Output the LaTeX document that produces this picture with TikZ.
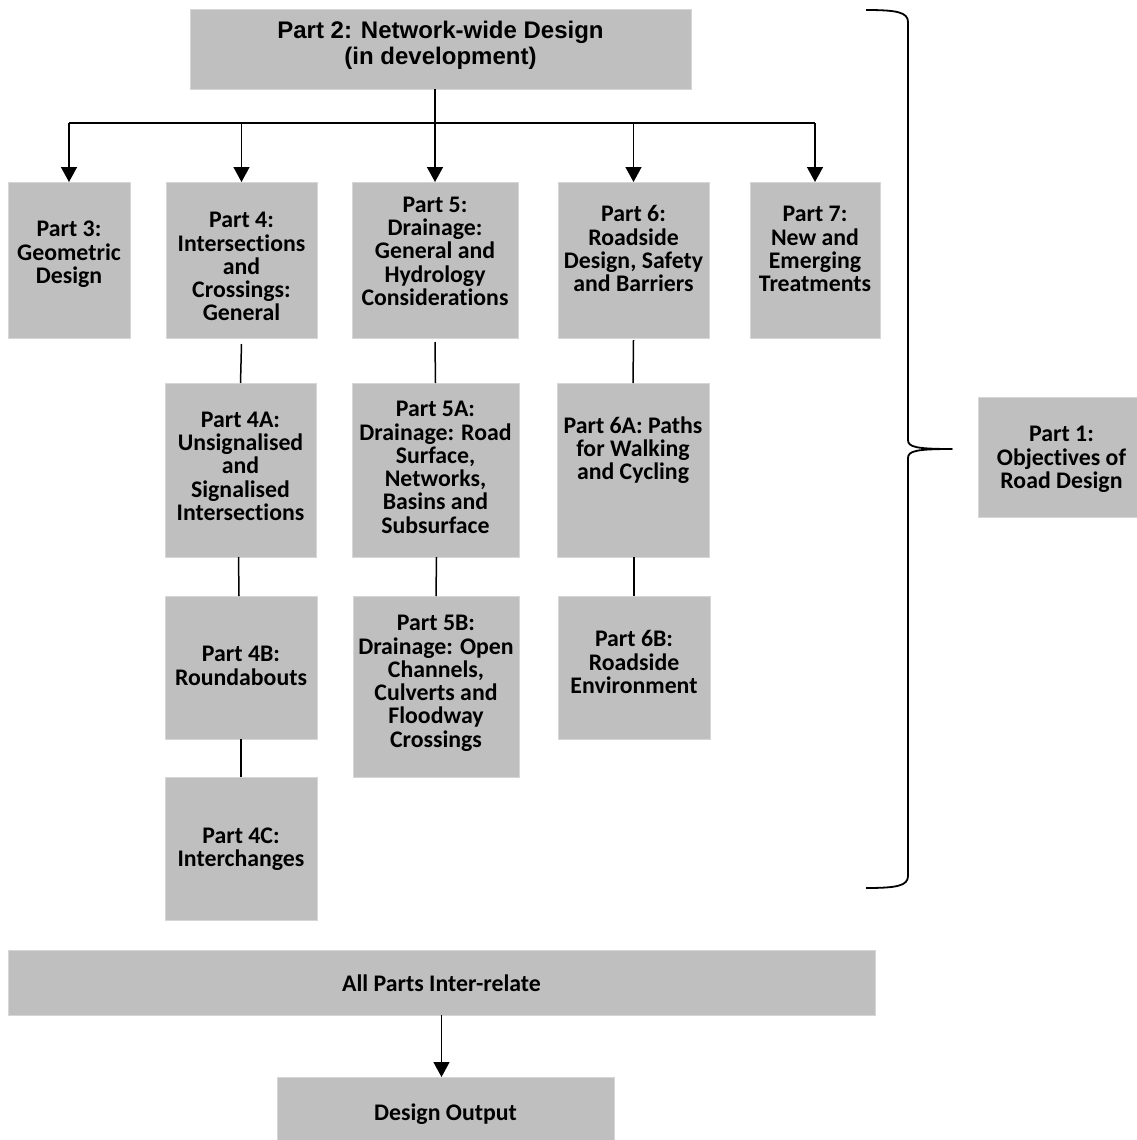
\documentclass[tikz,border=0pt]{standalone}
\usepackage{fontspec}
\setmainfont{Carlito}[Ligatures=NoCommon]
\newfontfamily\arialfont{Liberation Sans}
\usetikzlibrary{arrows.meta}
\definecolor{boxgray}{RGB}{191,191,191}
\definecolor{boxedge}{RGB}{214,214,214}
\newcommand\mlines[1]{\vtop{\lineskiplimit=-1000pt\lineskip=0pt\halign{\hfil##\hfil\cr#1\crcr}}}
\begin{document}
\begin{tikzpicture}[x=1pt,y=-1pt,
  box/.style={fill=boxgray,draw=boxedge,line width=1pt,inner sep=0pt,outer sep=0pt},
  txt/.style={anchor=base,inner sep=0pt,font=\fontsize{23.8}{23.3}\selectfont\bfseries},
  ttl/.style={anchor=base,inner sep=0pt,font=\arialfont\fontsize{24}{26.5}\selectfont\bfseries},
  link/.style={line width=1.5pt,black},
  arr/.style={link,-{Triangle[length=15pt,width=16pt]}},
  bracepath/.style={line width=1.8pt,black,line join=round}]
\useasboundingbox (0,0) rectangle (1136,1140);
% boxes
\node[box,minimum width=501,minimum height=79] (p2) at (440.5,49.5) {};
\node[box,minimum width=122,minimum height=156] (p3) at (69,260) {};
\node[box,minimum width=151,minimum height=156] (p4) at (241.5,260) {};
\node[box,minimum width=166,minimum height=156] (p5) at (435,260) {};
\node[box,minimum width=151,minimum height=156] (p6) at (633.5,260) {};
\node[box,minimum width=130,minimum height=156] (p7) at (815,260) {};
\node[box,minimum width=151,minimum height=174] (p4a) at (240.5,470) {};
\node[box,minimum width=167,minimum height=174] (p5a) at (435.5,470) {};
\node[box,minimum width=152,minimum height=174] (p6a) at (633,470) {};
\node[box,minimum width=152,minimum height=143] (p4b) at (241,667.5) {};
\node[box,minimum width=166,minimum height=181] (p5b) at (436,686.5) {};
\node[box,minimum width=152,minimum height=143] (p6b) at (634,667.5) {};
\node[box,minimum width=152,minimum height=143] (p4c) at (241,848.5) {};
\node[box,minimum width=168,minimum height=120] (p1) at (1062,457) {};
\node[box,minimum width=867,minimum height=65] (all) at (441.5,982.5) {};
\node[box,minimum width=337,minimum height=73] (out) at (445.5,1113.5) {};
% texts
\node[ttl] (p2t) at (440.5,38.5) {\mlines{Part 2: Network-wide Design\cr(in development)}};
\node[txt] (p3t) at (69,236.7) {\mlines{Part 3:\cr Geometric\cr Design}};
\node[txt] (p4t) at (241.5,227.7) {\mlines{Part 4:\cr Intersections\cr and\cr Crossings:\cr General}};
\node[txt] (p5t) at (435,212.3) {\mlines{Part 5:\cr Drainage:\cr General and\cr Hydrology\cr Considerations}};
\node[txt] (p6t) at (633.5,221.7) {\mlines{Part 6:\cr Roadside\cr Design, Safety\cr and Barriers}};
\node[txt] (p7t) at (815,221.7) {\mlines{Part 7:\cr New and\cr Emerging\cr Treatments}};
\node[txt] (p4at) at (240.5,427.3) {\mlines{Part 4A:\cr Unsignalised\cr and\cr Signalised\cr Intersections}};
\node[txt] (p5at) at (435.5,416.7) {\mlines{Part 5A:\cr Drainage: Road\cr Surface,\cr Networks,\cr Basins and\cr Subsurface}};
\node[txt] (p6at) at (633,433.3) {\mlines{Part 6A: Paths\cr for Walking\cr and Cycling}};
\node[txt] (p4bt) at (241,661.7) {\mlines{Part 4B:\cr Roundabouts}};
\node[txt] (p5bt) at (436,630.7) {\mlines{Part 5B:\cr Drainage: Open\cr Channels,\cr Culverts and\cr Floodway\cr Crossings}};
\node[txt] (p6bt) at (634,646.7) {\mlines{Part 6B:\cr Roadside\cr Environment}};
\node[txt] (p4ct) at (241,843.3) {\mlines{Part 4C:\cr Interchanges}};
\node[txt] (p1t) at (1061.5,441.7) {\mlines{Part 1:\cr Objectives of\cr Road Design}};
\node[txt] (allt) at (441.5,991.7) {All Parts Inter-relate};
\node[txt] (outt) at (445.5,1120) {Design Output};
% connectors
\coordinate (bus) at (0,123);
\draw[arr] (p2.south -| p5.north) -- (p5.north);
\draw[link] (bus -| p3.north) -- (bus -| p7.north);
\draw[arr] (bus -| p3.north) -- (p3.north);
\draw[arr] (bus -| p4.north) -- (p4.north);
\draw[arr] (bus -| p6.north) -- (p6.north);
\draw[arr] (bus -| p7.north) -- (p7.north);
\draw[link] ([yshift=-6pt]p4.south) -- (p4a.north);
\draw[link] ([yshift=-4pt]p5.south) -- (p5a.north);
\draw[link] ([yshift=-2pt]p6.south) -- (p6a.north);
\draw[link] ([xshift=-2pt]p4a.south) -- ([xshift=-2pt]p4b.north);
\draw[link] ([xshift=1pt]p5a.south) -- (p5b.north);
\draw[link] ([xshift=1pt]p6a.south) -- (p6b.north);
\draw[link] (p4b.south) -- (p4c.north);
\draw[arr] (all.south) -- (all.south |- out.north);
% brace
\draw[bracepath] (866,10) .. controls (896,10) and (908,12) .. (908,22)
  -- (908,440) .. controls (908,447) and (916,449) .. (952,449)
  .. controls (916,449) and (908,451) .. (908,458)
  -- (908,876) .. controls (908,886) and (896,888) .. (866,888);
\end{tikzpicture}
\end{document}
